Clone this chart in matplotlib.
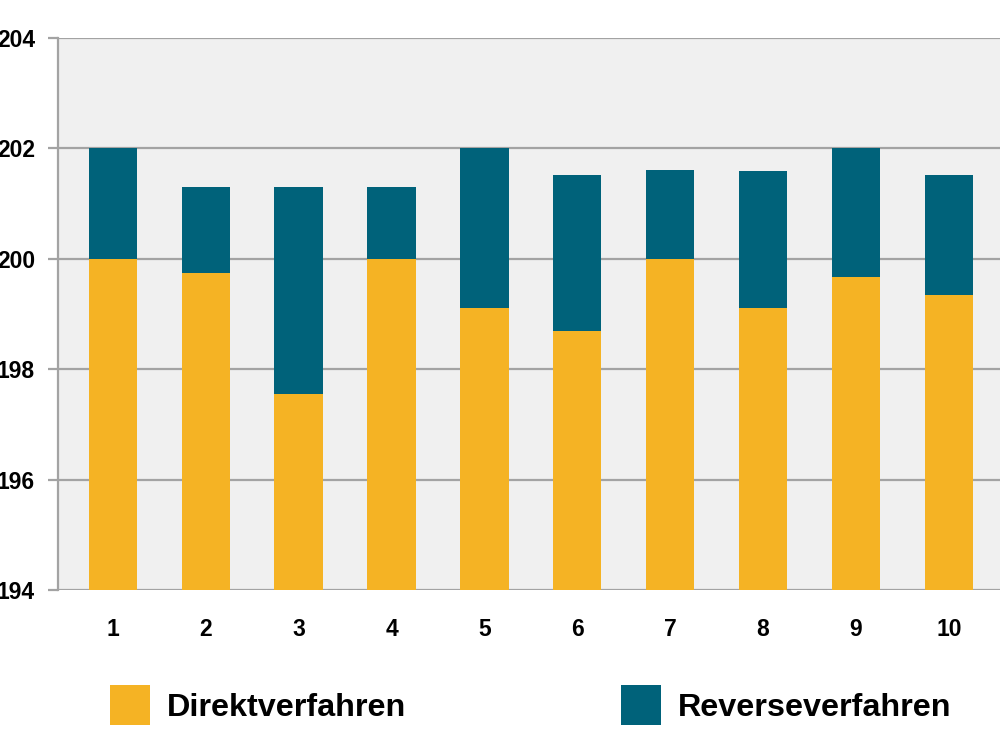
import matplotlib
matplotlib.use("Agg")
import matplotlib.pyplot as plt
import numpy as np

categories = ["1", "2", "3", "4", "5", "6", "7", "8", "9", "10"]
direkt = [200.0, 199.74, 197.55, 200.0, 199.11, 198.69, 200.0, 199.11, 199.67, 199.34]
total = [202.0, 201.30, 201.30, 201.30, 202.0, 201.52, 201.61, 201.59, 202.0, 201.52]
yticks = [194, 196, 198, 200, 202, 204]

plt.rcParams['font.family'] = ['Liberation Sans', 'DejaVu Sans']
plt.rcParams['font.weight'] = 'bold'

yellow = "#F5B324"
teal = "#00627A"
grid_c = "#A3A3A3"

fig = plt.figure(figsize=(10, 7.5), dpi=100)
ax = fig.add_axes([0.058, 0.2133, 0.942, 0.736])
ax.set_facecolor("#F0F0F0")

x = np.arange(1, len(categories) + 1)
base = 194
d_h = [v - base for v in direkt]
r_h = [t - v for t, v in zip(total, direkt)]
b1 = ax.bar(x, d_h, bottom=base, width=0.52, color=yellow, label="Direktverfahren", zorder=3)
b2 = ax.bar(x, r_h, bottom=direkt, width=0.52, color=teal, label="Reverseverfahren", zorder=3)

ax.set_ylim(194, 204)
ax.set_xlim(0.41, 10.55)
ax.set_yticks(yticks)
ax.set_xticks(x)
ax.set_xticklabels(categories)
ax.yaxis.grid(True, color=grid_c, linewidth=1.6, zorder=1)
ax.set_axisbelow(True)

for s in ["top", "right", "bottom"]:
    ax.spines[s].set_visible(False)
ax.spines["left"].set_color(grid_c)
ax.spines["left"].set_linewidth(1.6)
ax.spines["left"].set_zorder(4)

ax.tick_params(axis="y", length=7.5, width=1.6, color=grid_c, pad=9, labelsize=16.5)
ax.tick_params(axis="x", length=0, pad=20, labelsize=16.5)
for lab in ax.get_xticklabels() + ax.get_yticklabels():
    lab.set_fontweight("bold")

common = dict(loc="lower left", frameon=False, prop={"size": 23.3, "weight": "bold"},
              handlelength=1.235, handleheight=1.523, handletextpad=0.52,
              borderpad=0, borderaxespad=0)
leg1 = fig.legend(handles=[b1], bbox_to_anchor=(0.110, 0.033), **common)
leg2 = fig.legend(handles=[b2], bbox_to_anchor=(0.621, 0.033), **common)

fig.savefig("out.png", dpi=100)
